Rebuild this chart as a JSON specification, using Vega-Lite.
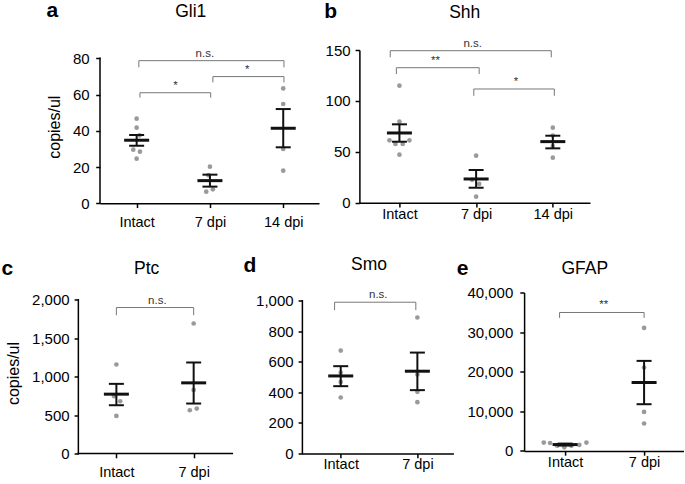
{
  "$schema": "https://vega.github.io/schema/vega-lite/v6.json",
  "padding": {"left": 1, "top": 0, "right": 0, "bottom": 0},
  "background": "white",
  "config": {
    "font": "Liberation Sans",
    "view": {"stroke": null},
    "axis": {"grid": false, "domainColor": "black", "domainWidth": 1.5, "tickColor": "black", "tickWidth": 1.5, "tickSize": 4.3, "labelColor": "black", "titleColor": "black", "labelFont": "Liberation Sans", "titleFont": "Liberation Sans", "titleFontWeight": "normal", "labelFlush": false, "labelOverlap": false, "labelBound": false},
    "title": {"font": "Liberation Sans", "color": "black"}
  },
  "datasets": {
    "a": [
      {"k": "ax", "x": -0.5, "x2": -0.5, "y": 0, "y2": 80},
      {"k": "seg", "x": 0.03, "x2": 2.01, "y": 78.7, "y2": 78.7},
      {"k": "seg", "x": 0.03, "x2": 0.03, "y": 78.7, "y2": 75},
      {"k": "seg", "x": 2.01, "x2": 2.01, "y": 78.7, "y2": 75},
      {"k": "seg", "x": 1.04, "x2": 2.01, "y": 69.9, "y2": 69.9},
      {"k": "seg", "x": 1.04, "x2": 1.04, "y": 69.9, "y2": 66.7},
      {"k": "seg", "x": 2.01, "x2": 2.01, "y": 69.9, "y2": 66.7},
      {"k": "seg", "x": 0.045, "x2": 1.01, "y": 61, "y2": 61},
      {"k": "seg", "x": 0.045, "x2": 0.045, "y": 61, "y2": 58.3},
      {"k": "seg", "x": 1.01, "x2": 1.01, "y": 61, "y2": 58.3},
      {"k": "lab", "x": 0.93, "y": 78.7, "t": "n.s."},
      {"k": "lab", "x": 1.51, "y": 69.9, "t": "*"},
      {"k": "lab", "x": 0.53, "y": 61, "t": "*"},
      {"k": "dot", "x": 0, "y": 46.7},
      {"k": "dot", "x": 0, "y": 41.7},
      {"k": "dot", "x": 0.04, "y": 37.5},
      {"k": "dot", "x": -0.046, "y": 29.6},
      {"k": "dot", "x": 0.045, "y": 28.5},
      {"k": "dot", "x": 0, "y": 24.6},
      {"k": "dot", "x": 1, "y": 20.2},
      {"k": "dot", "x": 0.98, "y": 15.5},
      {"k": "dot", "x": 0.95, "y": 6.4},
      {"k": "dot", "x": 1.04, "y": 7.7},
      {"k": "dot", "x": 2, "y": 63.4},
      {"k": "dot", "x": 2, "y": 54.8},
      {"k": "dot", "x": 2, "y": 30},
      {"k": "dot", "x": 2, "y": 18},
      {"k": "sem", "x": 0, "y": 31.8, "y2": 37.7},
      {"k": "sem", "x": 1, "y": 9.2, "y2": 15.8},
      {"k": "sem", "x": 2, "y": 30.9, "y2": 52},
      {"k": "cap", "x": 0, "y": 31.8},
      {"k": "cap", "x": 0, "y": 37.7},
      {"k": "cap", "x": 1, "y": 9.2},
      {"k": "cap", "x": 1, "y": 15.8},
      {"k": "cap", "x": 2, "y": 30.9},
      {"k": "cap", "x": 2, "y": 52},
      {"k": "mean", "x": 0, "y": 34.8},
      {"k": "mean", "x": 1, "y": 12.5},
      {"k": "mean", "x": 2, "y": 41.4}
    ],
    "b": [
      {"k": "seg", "x": -0.12, "x2": 1.98, "y": 149.3, "y2": 149.3},
      {"k": "seg", "x": -0.12, "x2": -0.12, "y": 149.3, "y2": 142.8},
      {"k": "seg", "x": 1.98, "x2": 1.98, "y": 149.3, "y2": 142.8},
      {"k": "seg", "x": -0.04, "x2": 1.04, "y": 132.6, "y2": 132.6},
      {"k": "seg", "x": -0.04, "x2": -0.04, "y": 132.6, "y2": 126.4},
      {"k": "seg", "x": 1.04, "x2": 1.04, "y": 132.6, "y2": 126.4},
      {"k": "seg", "x": 0.97, "x2": 2.02, "y": 111.7, "y2": 111.7},
      {"k": "seg", "x": 0.97, "x2": 0.97, "y": 111.7, "y2": 105},
      {"k": "seg", "x": 2.02, "x2": 2.02, "y": 111.7, "y2": 105},
      {"k": "lab", "x": 0.956, "y": 149.3, "t": "n.s."},
      {"k": "lab", "x": 0.47, "y": 132.6, "t": "**"},
      {"k": "lab", "x": 1.52, "y": 111.7, "t": "*"},
      {"k": "dot", "x": 0, "y": 115},
      {"k": "dot", "x": 0, "y": 79.6},
      {"k": "dot", "x": -0.13, "y": 61.3},
      {"k": "dot", "x": 0.13, "y": 61.3},
      {"k": "dot", "x": -0.052, "y": 57.7},
      {"k": "dot", "x": 0.043, "y": 57.7},
      {"k": "dot", "x": 0, "y": 47.2},
      {"k": "dot", "x": 1, "y": 46.2},
      {"k": "dot", "x": 0.947, "y": 22.5},
      {"k": "dot", "x": 1.04, "y": 18.4},
      {"k": "dot", "x": 1, "y": 5.9},
      {"k": "dot", "x": 2, "y": 73.7},
      {"k": "dot", "x": 2, "y": 66},
      {"k": "dot", "x": 2, "y": 55.7},
      {"k": "dot", "x": 2, "y": 44.2},
      {"k": "sem", "x": 0, "y": 59.9, "y2": 77},
      {"k": "sem", "x": 1, "y": 14.7, "y2": 32.1},
      {"k": "sem", "x": 2, "y": 53.4, "y2": 65.8},
      {"k": "cap", "x": 0, "y": 59.9},
      {"k": "cap", "x": 0, "y": 77},
      {"k": "cap", "x": 1, "y": 14.7},
      {"k": "cap", "x": 1, "y": 32.1},
      {"k": "cap", "x": 2, "y": 53.4},
      {"k": "cap", "x": 2, "y": 65.8},
      {"k": "mean", "x": 0, "y": 68.5},
      {"k": "mean", "x": 1, "y": 23.3},
      {"k": "mean", "x": 2, "y": 60}
    ],
    "c": [
      {"k": "ax", "x": -0.492, "x2": -0.492, "y": 0, "y2": 2000},
      {"k": "ax", "x": -0.492, "x2": 1.5, "y": 0, "y2": 0},
      {"k": "seg", "x": 0, "x2": 1, "y": 1899, "y2": 1899},
      {"k": "seg", "x": 0, "x2": 0, "y": 1899, "y2": 1799},
      {"k": "seg", "x": 1, "x2": 1, "y": 1899, "y2": 1799},
      {"k": "lab", "x": 0.53, "y": 1899, "t": "n.s."},
      {"k": "dot", "x": 0, "y": 1158},
      {"k": "dot", "x": -0.03, "y": 745},
      {"k": "dot", "x": 0.05, "y": 680},
      {"k": "dot", "x": 0, "y": 489},
      {"k": "dot", "x": 1, "y": 1691},
      {"k": "dot", "x": 1, "y": 827},
      {"k": "dot", "x": 0.95, "y": 563},
      {"k": "dot", "x": 1.04, "y": 585},
      {"k": "sem", "x": 0, "y": 628, "y2": 906},
      {"k": "sem", "x": 1, "y": 650, "y2": 1184},
      {"k": "cap", "x": 0, "y": 628},
      {"k": "cap", "x": 0, "y": 906},
      {"k": "cap", "x": 1, "y": 650},
      {"k": "cap", "x": 1, "y": 1184},
      {"k": "mean", "x": 0, "y": 772},
      {"k": "mean", "x": 1, "y": 919}
    ],
    "d": [
      {"k": "ax", "x": -0.5, "x2": -0.5, "y": 0, "y2": 1000},
      {"k": "seg", "x": -0.08, "x2": 0.98, "y": 991, "y2": 991},
      {"k": "seg", "x": -0.08, "x2": -0.08, "y": 991, "y2": 939},
      {"k": "seg", "x": 0.98, "x2": 0.98, "y": 991, "y2": 939},
      {"k": "lab", "x": 0.49, "y": 991, "t": "n.s."},
      {"k": "dot", "x": 0, "y": 674},
      {"k": "dot", "x": 0, "y": 530},
      {"k": "dot", "x": 0, "y": 469},
      {"k": "dot", "x": 0, "y": 367},
      {"k": "dot", "x": 1, "y": 891},
      {"k": "dot", "x": 1, "y": 517},
      {"k": "dot", "x": 1, "y": 404},
      {"k": "dot", "x": 1, "y": 336},
      {"k": "sem", "x": 0, "y": 441, "y2": 572},
      {"k": "sem", "x": 1, "y": 415, "y2": 661},
      {"k": "cap", "x": 0, "y": 441},
      {"k": "cap", "x": 0, "y": 572},
      {"k": "cap", "x": 1, "y": 415},
      {"k": "cap", "x": 1, "y": 661},
      {"k": "mean", "x": 0, "y": 508},
      {"k": "mean", "x": 1, "y": 539}
    ],
    "e": [
      {"k": "seg", "x": -0.07, "x2": 1, "y": 34950, "y2": 34950},
      {"k": "seg", "x": -0.07, "x2": -0.07, "y": 34950, "y2": 33580},
      {"k": "seg", "x": 1, "x2": 1, "y": 34950, "y2": 33580},
      {"k": "lab", "x": 0.49, "y": 34950, "t": "**"},
      {"k": "dot", "x": -0.27, "y": 2100},
      {"k": "dot", "x": -0.19, "y": 2000},
      {"k": "dot", "x": -0.1, "y": 1300},
      {"k": "dot", "x": -0.01, "y": 900},
      {"k": "dot", "x": 0.08, "y": 1300},
      {"k": "dot", "x": 0.18, "y": 1500},
      {"k": "dot", "x": 0.27, "y": 2100},
      {"k": "dot", "x": 1, "y": 31060},
      {"k": "dot", "x": 1, "y": 21060},
      {"k": "dot", "x": 1, "y": 9850},
      {"k": "dot", "x": 1, "y": 6920},
      {"k": "sem", "x": 0, "y": 1350, "y2": 1850},
      {"k": "sem", "x": 1, "y": 11790, "y2": 22730},
      {"k": "cap", "x": 0, "y": 1350},
      {"k": "cap", "x": 0, "y": 1850},
      {"k": "cap", "x": 1, "y": 11790},
      {"k": "cap", "x": 1, "y": 22730},
      {"k": "mean", "x": 0, "y": 1600},
      {"k": "mean", "x": 1, "y": 17270}
    ]
  },
  "spacing": 24.5,
  "vconcat": [
    {
      "spacing": 4.4,
      "hconcat": [
        {
          "title": {"text": "a", "anchor": "start", "dx": 0, "dy": 35, "offset": 0, "baseline": "alphabetic", "fontSize": 21, "fontWeight": "bold"},
          "vconcat": [
            {
              "width": 219, "height": 153.3,
              "title": {"text": "Gli1", "frame": "group", "dx": -18.8, "offset": 13.1, "baseline": "alphabetic", "fontSize": 17.5, "fontWeight": "normal"},
              "data": {"name": "a"},
              "encoding": {
                "x": {"field": "x", "type": "quantitative", "scale": {"domain": [-0.5, 2.488], "nice": false, "zero": false}, "axis": {"values": [0, 1, 2], "labelExpr": "['Intact','7 dpi','14 dpi'][datum.value]", "title": null, "labelPadding": 8, "labelFontSize": 14.5}},
                "y": {"field": "y", "type": "quantitative", "scale": {"domain": [0, 84.58], "nice": false, "zero": false}, "axis": {"values": [0, 20, 40, 60, 80], "format": ",.0f", "title": "copies/ul", "domain": false, "labelPadding": 6.5, "labelFontSize": 15, "titleFontSize": 16, "titlePadding": 10}}
              },
              "layer": [
                {"transform": [{"filter": "datum.k == 'ax'"}], "mark": {"type": "rule", "color": "black", "strokeWidth": 1.5, "strokeCap": "square"}, "encoding": {"x2": {"field": "x2"}, "y2": {"field": "y2"}}},
                {"transform": [{"filter": "datum.k == 'seg'"}], "mark": {"type": "rule", "color": "#777777", "strokeWidth": 1}, "encoding": {"x2": {"field": "x2"}, "y2": {"field": "y2"}}},
                {"transform": [{"filter": "datum.k == 'lab'"}], "mark": {"type": "text", "baseline": "alphabetic", "dy": -4, "fontSize": 11.5, "color": "#333333", "fill": "#333333"}, "encoding": {"text": {"field": "t"}}},
                {"transform": [{"filter": "datum.k == 'dot'"}], "mark": {"type": "circle", "size": 22, "color": "#9a9a9a", "opacity": 1}},
                {"transform": [{"filter": "datum.k == 'sem'"}], "mark": {"type": "rule", "color": "#111111", "strokeWidth": 2}, "encoding": {"y2": {"field": "y2"}}},
                {"transform": [{"filter": "datum.k == 'cap'"}], "mark": {"type": "tick", "orient": "horizontal", "size": 15, "thickness": 2, "color": "#111111", "opacity": 1}},
                {"transform": [{"filter": "datum.k == 'mean'"}], "mark": {"type": "tick", "orient": "horizontal", "size": 25, "thickness": 3, "color": "#111111", "opacity": 1}}
              ]
            }
          ]
        },
        {
          "title": {"text": "b", "anchor": "start", "dx": -0.7, "dy": 35, "offset": 0, "baseline": "alphabetic", "fontSize": 21, "fontWeight": "bold"},
          "vconcat": [
            {
              "width": 230.6, "height": 152.7,
              "title": {"text": "Shh", "frame": "group", "dx": -10, "offset": 2, "baseline": "alphabetic", "fontSize": 17.5, "fontWeight": "normal"},
              "data": {"name": "b"},
              "encoding": {
                "x": {"field": "x", "type": "quantitative", "scale": {"domain": [-0.522, 2.485], "nice": false, "zero": false}, "axis": {"values": [0, 1, 2], "labelExpr": "['Intact','7 dpi','14 dpi'][datum.value]", "title": null, "labelPadding": 0, "labelFontSize": 14.5}},
                "y": {"field": "y", "type": "quantitative", "scale": {"domain": [0, 150], "nice": false, "zero": false}, "axis": {"values": [0, 50, 100, 150], "format": ",.0f", "title": null, "labelPadding": 5, "labelFontSize": 15}}
              },
              "layer": [
                {"transform": [{"filter": "datum.k == 'seg'"}], "mark": {"type": "rule", "color": "#777777", "strokeWidth": 1}, "encoding": {"x2": {"field": "x2"}, "y2": {"field": "y2"}}},
                {"transform": [{"filter": "datum.k == 'lab'"}], "mark": {"type": "text", "baseline": "alphabetic", "dy": -4, "fontSize": 11.5, "color": "#333333", "fill": "#333333"}, "encoding": {"text": {"field": "t"}}},
                {"transform": [{"filter": "datum.k == 'dot'"}], "mark": {"type": "circle", "size": 22, "color": "#9a9a9a", "opacity": 1}},
                {"transform": [{"filter": "datum.k == 'sem'"}], "mark": {"type": "rule", "color": "#111111", "strokeWidth": 2}, "encoding": {"y2": {"field": "y2"}}},
                {"transform": [{"filter": "datum.k == 'cap'"}], "mark": {"type": "tick", "orient": "horizontal", "size": 15, "thickness": 2, "color": "#111111", "opacity": 1}},
                {"transform": [{"filter": "datum.k == 'mean'"}], "mark": {"type": "tick", "orient": "horizontal", "size": 25, "thickness": 3, "color": "#111111", "opacity": 1}}
              ]
            }
          ]
        }
      ]
    },
    {
      "spacing": 9.4,
      "hconcat": [
        {
          "title": {"text": "c", "anchor": "start", "dx": -4, "dy": 36.4, "offset": 0, "baseline": "alphabetic", "fontSize": 21, "fontWeight": "bold"},
          "vconcat": [
            {
              "width": 132.3, "height": 161,
              "title": {"text": "Ptc", "frame": "group", "dx": -19.5, "dy": -1.2, "offset": 0, "baseline": "alphabetic", "fontSize": 17.5, "fontWeight": "normal"},
              "data": {"name": "c"},
              "encoding": {
                "x": {"field": "x", "type": "quantitative", "scale": {"domain": [-0.212, 1.5], "nice": false, "zero": false}, "axis": {"values": [0, 1], "labelExpr": "['Intact','7 dpi'][datum.value]", "title": null, "domain": false, "labelPadding": 8, "labelFontSize": 14.5}},
                "y": {"field": "y", "type": "quantitative", "scale": {"domain": [0, 2094.6], "nice": false, "zero": false}, "axis": {"values": [0, 500, 1000, 1500, 2000], "format": ",.0f", "title": "copies/ul", "domain": false, "offset": 21.6, "labelPadding": 5, "labelFontSize": 15, "titleFontSize": 16, "titlePadding": 10}}
              },
              "layer": [
                {"transform": [{"filter": "datum.k == 'ax'"}], "mark": {"type": "rule", "color": "black", "strokeWidth": 1.5, "strokeCap": "square"}, "encoding": {"x2": {"field": "x2"}, "y2": {"field": "y2"}}},
                {"transform": [{"filter": "datum.k == 'seg'"}], "mark": {"type": "rule", "color": "#777777", "strokeWidth": 1}, "encoding": {"x2": {"field": "x2"}, "y2": {"field": "y2"}}},
                {"transform": [{"filter": "datum.k == 'lab'"}], "mark": {"type": "text", "baseline": "alphabetic", "dy": -4, "fontSize": 11.5, "color": "#333333", "fill": "#333333"}, "encoding": {"text": {"field": "t"}}},
                {"transform": [{"filter": "datum.k == 'dot'"}], "mark": {"type": "circle", "size": 22, "color": "#9a9a9a", "opacity": 1}},
                {"transform": [{"filter": "datum.k == 'sem'"}], "mark": {"type": "rule", "color": "#111111", "strokeWidth": 2}, "encoding": {"y2": {"field": "y2"}}},
                {"transform": [{"filter": "datum.k == 'cap'"}], "mark": {"type": "tick", "orient": "horizontal", "size": 15, "thickness": 2, "color": "#111111", "opacity": 1}},
                {"transform": [{"filter": "datum.k == 'mean'"}], "mark": {"type": "tick", "orient": "horizontal", "size": 25, "thickness": 3, "color": "#111111", "opacity": 1}}
              ]
            }
          ]
        },
        {
          "spacing": 2.7,
          "hconcat": [
            {
              "title": {"text": "d", "anchor": "start", "dx": -12, "dy": 36.4, "offset": 0, "baseline": "alphabetic", "fontSize": 21, "fontWeight": "bold"},
              "vconcat": [
                {
                  "width": 151, "height": 161,
                  "title": {"text": "Smo", "frame": "group", "dx": -8.9, "dy": -1.5, "offset": 0, "baseline": "alphabetic", "fontSize": 17.5, "fontWeight": "normal"},
                  "data": {"name": "d"},
                  "encoding": {
                    "x": {"field": "x", "type": "quantitative", "scale": {"domain": [-0.5, 1.47], "nice": false, "zero": false}, "axis": {"values": [0, 1], "labelExpr": "['Intact','7 dpi'][datum.value]", "title": null, "labelPadding": 0, "labelFontSize": 14.5}},
                    "y": {"field": "y", "type": "quantitative", "scale": {"domain": [0, 1054.6], "nice": false, "zero": false}, "axis": {"values": [0, 200, 400, 600, 800, 1000], "format": ",.0f", "title": null, "domain": false, "labelPadding": 5, "labelFontSize": 15}}
                  },
                  "layer": [
                    {"transform": [{"filter": "datum.k == 'ax'"}], "mark": {"type": "rule", "color": "black", "strokeWidth": 1.5, "strokeCap": "square"}, "encoding": {"x2": {"field": "x2"}, "y2": {"field": "y2"}}},
                    {"transform": [{"filter": "datum.k == 'seg'"}], "mark": {"type": "rule", "color": "#777777", "strokeWidth": 1}, "encoding": {"x2": {"field": "x2"}, "y2": {"field": "y2"}}},
                    {"transform": [{"filter": "datum.k == 'lab'"}], "mark": {"type": "text", "baseline": "alphabetic", "dy": -4, "fontSize": 11.5, "color": "#333333", "fill": "#333333"}, "encoding": {"text": {"field": "t"}}},
                    {"transform": [{"filter": "datum.k == 'dot'"}], "mark": {"type": "circle", "size": 22, "color": "#9a9a9a", "opacity": 1}},
                    {"transform": [{"filter": "datum.k == 'sem'"}], "mark": {"type": "rule", "color": "#111111", "strokeWidth": 2}, "encoding": {"y2": {"field": "y2"}}},
                    {"transform": [{"filter": "datum.k == 'cap'"}], "mark": {"type": "tick", "orient": "horizontal", "size": 15, "thickness": 2, "color": "#111111", "opacity": 1}},
                    {"transform": [{"filter": "datum.k == 'mean'"}], "mark": {"type": "tick", "orient": "horizontal", "size": 25, "thickness": 3, "color": "#111111", "opacity": 1}}
                  ]
                }
              ]
            },
            {
              "title": {"text": "e", "anchor": "start", "dx": -10.1, "dy": 36.4, "offset": 0, "baseline": "alphabetic", "fontSize": 21, "fontWeight": "bold"},
              "vconcat": [
                {
                  "width": 159.4, "height": 158.4,
                  "title": {"text": "GFAP", "frame": "group", "dx": -19, "dy": 6, "offset": 0, "baseline": "alphabetic", "fontSize": 17.5, "fontWeight": "normal"},
                  "data": {"name": "e"},
                  "encoding": {
                    "x": {"field": "x", "type": "quantitative", "scale": {"domain": [-0.519, 1.499], "nice": false, "zero": false}, "axis": {"values": [0, 1], "labelExpr": "['Intact','7 dpi'][datum.value]", "title": null, "labelPadding": 0, "labelFontSize": 14.5}},
                    "y": {"field": "y", "type": "quantitative", "scale": {"domain": [0, 40000], "nice": false, "zero": false}, "axis": {"values": [0, 10000, 20000, 30000, 40000], "format": ",.0f", "title": null, "labelPadding": 7, "labelFontSize": 15}}
                  },
                  "layer": [
                    {"transform": [{"filter": "datum.k == 'seg'"}], "mark": {"type": "rule", "color": "#777777", "strokeWidth": 1}, "encoding": {"x2": {"field": "x2"}, "y2": {"field": "y2"}}},
                    {"transform": [{"filter": "datum.k == 'lab'"}], "mark": {"type": "text", "baseline": "alphabetic", "dy": -4, "fontSize": 11.5, "color": "#333333", "fill": "#333333"}, "encoding": {"text": {"field": "t"}}},
                    {"transform": [{"filter": "datum.k == 'dot'"}], "mark": {"type": "circle", "size": 22, "color": "#9a9a9a", "opacity": 1}},
                    {"transform": [{"filter": "datum.k == 'sem'"}], "mark": {"type": "rule", "color": "#111111", "strokeWidth": 2}, "encoding": {"y2": {"field": "y2"}}},
                    {"transform": [{"filter": "datum.k == 'cap'"}], "mark": {"type": "tick", "orient": "horizontal", "size": 15, "thickness": 2, "color": "#111111", "opacity": 1}},
                    {"transform": [{"filter": "datum.k == 'mean'"}], "mark": {"type": "tick", "orient": "horizontal", "size": 25, "thickness": 3, "color": "#111111", "opacity": 1}}
                  ]
                }
              ]
            }
          ]
        }
      ]
    }
  ]
}
